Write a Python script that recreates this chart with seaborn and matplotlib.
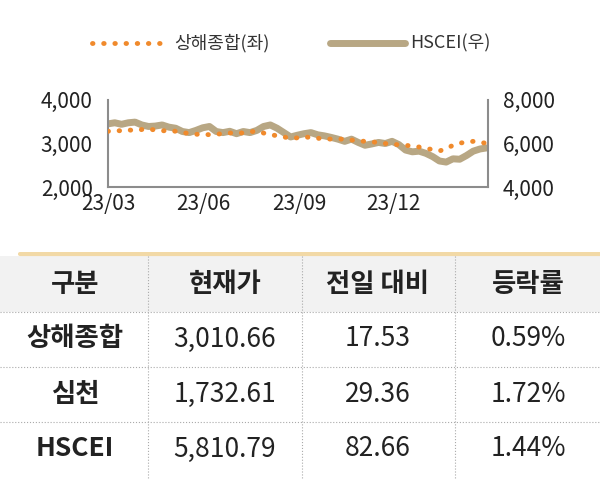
import matplotlib
matplotlib.use("Agg")
import matplotlib.pyplot as plt
import seaborn as sns
import pandas as pd
import numpy as np

sns.set_theme(style="white")
plt.rcParams['font.family'] = ['Noto Sans CJK KR', 'DejaVu Sans']

shanghai = [3280, 3300, 3290, 3310, 3300, 3320, 3330, 3310, 3290, 3300, 3280, 3250,
            3230, 3210, 3220, 3200, 3210, 3230, 3240, 3250, 3240, 3270, 3280, 3240,
            3200, 3180, 3150, 3120, 3130, 3150, 3140, 3120, 3110, 3100, 3110, 3090,
            3080, 3060, 3050, 3040, 3020, 3000, 2990, 2970, 2960, 2940, 2920, 2890,
            2860, 2830, 2880, 2960, 3010, 3030, 3050, 3020, 3010]
hscei = [6900, 6950, 6880, 6950, 6980, 6850, 6780, 6800, 6850, 6750, 6700, 6550,
         6500, 6600, 6720, 6780, 6550, 6500, 6560, 6450, 6550, 6500, 6600, 6780,
         6850, 6700, 6500, 6300, 6380, 6450, 6500, 6400, 6350, 6280, 6200, 6100,
         6200, 6050, 5920, 5980, 6050, 6000, 6100, 5950, 5700, 5620, 5650, 5550,
         5400, 5200, 5150, 5300, 5280, 5450, 5650, 5750, 5800]
dates = pd.date_range("2023-03-01", "2024-02-29", periods=len(shanghai))
df = pd.DataFrame({"date": dates, "sh": shanghai, "hs": hscei})

tick_dates = pd.to_datetime(["2023-03-01", "2023-06-01", "2023-09-01", "2023-12-01", "2024-03-01"])
tick_labels = ["23/03", "23/06", "23/09", "23/12", ""]

header = ["구분", "현재가", "전일 대비", "등락률"]
rows = [["상해종합", "3,010.66", "17.53", "0.59%"],
        ["심천", "1,732.61", "29.36", "1.72%"],
        ["HSCEI", "5,810.79", "82.66", "1.44%"]]

orange = "#f08a2c"
brown = "#b8a784"
gray = "#8c8c8c"

fig = plt.figure(figsize=(6, 4.8), dpi=100)
ax = fig.add_axes([0.18, 0.61, 0.633, 0.182])
ax2 = ax.twinx()

sns.lineplot(data=df, x="date", y="hs", ax=ax2, color=brown, lw=5, zorder=2)
sns.lineplot(data=df, x="date", y="sh", ax=ax, color=orange, lw=3.5,
             linestyle=(0, (0.1, 2.2)), dash_capstyle="round", zorder=3)
ax.set_zorder(ax2.get_zorder() + 1)
ax.patch.set_visible(False)

ax.set_ylim(2000, 4000)
ax2.set_ylim(4000, 8000)
ax.set_yticks([2000, 3000, 4000])
ax2.set_yticks([4000, 6000, 8000])
ax.set_yticklabels(["2,000", "3,000", "4,000"])
ax2.set_yticklabels(["4,000", "6,000", "8,000"])
ax.set_xlim(tick_dates[0], tick_dates[-1])
ax.set_xticks(tick_dates)
ax.set_xticklabels(tick_labels)
for a in (ax, ax2):
    a.set_xlabel("")
    a.set_ylabel("")
    for s in a.spines.values():
        s.set_visible(False)
    a.tick_params(labelsize=15, colors="#222222", length=5, width=1.5, color=gray)
    a.tick_params(axis="x", direction="inout")
ax.spines["left"].set_visible(True)
ax.spines["bottom"].set_visible(True)
ax2.spines["right"].set_visible(True)
for s in (ax.spines["left"], ax.spines["bottom"], ax2.spines["right"]):
    s.set_color(gray)
    s.set_linewidth(1.5)
ax.tick_params(axis="y", left=False, pad=6)
ax2.tick_params(axis="y", right=False, pad=6)
ax.tick_params(axis="x", pad=2)

# legend
lg = fig.add_axes([0, 0.87, 1, 0.08])
lg.set_xlim(0, 600)
lg.set_ylim(0, 1)
lg.axis("off")
lg.plot([92, 162], [0.5, 0.5], color=orange, lw=3.5, linestyle=(0, (0.1, 2.2)), dash_capstyle="round")
lg.text(174, 0.5, "상해종합(좌)", fontsize=13, va="center", color="#333333")
lg.plot([330, 405], [0.5, 0.5], color=brown, lw=5)
lg.text(410, 0.5, "HSCEI(우)", fontsize=13, va="center", color="#333333")

# table
tb = fig.add_axes([0, 0, 1, 0.475])
tb.set_xlim(0, 600)
tb.set_ylim(228, 0)
tb.axis("off")
tb.plot([20, 600], [2, 2], color="#f2d9a6", lw=3)
tb.fill_between([0, 600], 4, 60, color="#f2f2f2", lw=0)
col_x = [75, 225, 378, 528]
col_sep = [148, 302, 455]
row_y = [32, 87, 142, 197]
for ys in [60, 115, 170]:
    tb.plot([0, 600], [ys, ys], color="#aaaaaa", lw=0.8, linestyle=":")
for xs in col_sep:
    tb.plot([xs, xs], [4, 228], color="#aaaaaa", lw=0.8, linestyle=":")
for x, t in zip(col_x, header):
    tb.text(x, row_y[0], t, ha="center", va="center", fontsize=19, fontweight="bold", color="#222222")
for r, row in enumerate(rows):
    for c, t in enumerate(row):
        tb.text(col_x[c], row_y[r + 1], t, ha="center", va="center", fontsize=19,
                fontweight="bold" if c == 0 else "normal", color="#222222")

fig.savefig("out.png", dpi=100)
